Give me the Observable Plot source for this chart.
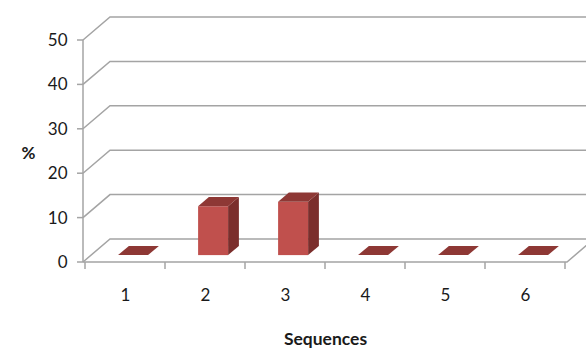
<!DOCTYPE html>
<html><head><meta charset="utf-8">
<script src="https://cdn.jsdelivr.net/npm/d3@7"></script>
<script src="https://cdn.jsdelivr.net/npm/@observablehq/plot@0.6"></script>
<style>body{margin:0;background:#fff}</style>
</head><body><div id="chart"></div>
<script>
// ---- data ----
const categories = ["1", "2", "3", "4", "5", "6"];
const values = [0, 11, 12, 0, 0, 0];
const yTicks = [0, 10, 20, 30, 40, 50];
const yLabel = "%";
const xLabel = "Sequences";

const data = categories.map((c, i) => ({seq: c, pct: values[i]}));

// ---- style ----
const DEPTH = [27, -23];          // wall depth offset (px)
const BAR_FRONT = 0.3, BAR_BACK = 0.7; // bar position within depth
const BAR_INSET = 25;
const gridColor = "#a4a4a4";
const frontColor = "#c0504d";
const topColor = "#8e3835";
const sideColor = "#7b2e2c";
const textColor = "#1a1a1a";
const font = "Lato, 'Open Sans', sans-serif";

function walls(index, {x, y}, values, dims) {
  const g = d3.create("svg:g").attr("fill", "none").attr("stroke", gridColor).attr("stroke-width", 1.5);
  const x0 = dims.marginLeft, x1 = dims.width - dims.marginRight;
  const [dx, dy] = DEPTH;
  for (const t of yTicks) {
    const yy = y(t);
    g.append("path").attr("d", `M${x0},${yy}L${x0 + dx},${yy + dy}H${x1 + dx + 20}`);
    g.append("path").attr("d", `M${x0 - 6},${yy}H${x0}`);
  }
  g.append("path").attr("d", `M${x0},${y(0)}H${x1}l${dx},${dy}`);
  g.append("path").attr("d", `M${x0},${y(0)}V${y(d3.max(yTicks))}`);
  const bw = x.bandwidth();
  const bounds = categories.map(c => x(c)).concat([x(categories[categories.length - 1]) + bw]);
  for (const b of bounds) g.append("path").attr("d", `M${b},${y(0)}v7`);
  return g.node();
}

function barSides(index, {x, y}) {
  const g = d3.create("svg:g");
  const bw = x.bandwidth();
  const [dx, dy] = DEPTH;
  const w = bw - 2 * BAR_INSET;
  const ddx = dx * (BAR_BACK - BAR_FRONT), ddy = dy * (BAR_BACK - BAR_FRONT);
  for (const d of data) {
    const fx = x(d.seq) + BAR_INSET + dx * BAR_FRONT;
    const fy0 = y(0) + dy * BAR_FRONT;
    const fy1 = y(d.pct) + dy * BAR_FRONT;
    if (fy0 - fy1 > 0.5) {
      g.append("path").attr("fill", sideColor)
        .attr("d", `M${fx + w},${fy1}l${ddx},${ddy}V${fy0 + ddy}l${-ddx},${-ddy}Z`);
    }
    g.append("path").attr("fill", topColor)
      .attr("d", `M${fx},${fy1}h${w}l${ddx},${ddy}h${-w}Z`);
  }
  return g.node();
}

const chart = Plot.plot({
  width: 586,
  height: 348,
  marginLeft: 83,
  marginRight: 19,
  marginTop: 40,
  marginBottom: 86,
  style: {fontFamily: font, fontSize: "17px", color: textColor, background: "#fff"},
  x: {type: "band", domain: categories, padding: 0, tickSize: 0, tickPadding: 26, label: null},
  y: {domain: [0, 50], ticks: yTicks, tickSize: 0, tickPadding: 16, label: null},
  marks: [
    walls,
    Plot.barY(data, {x: "seq", y: "pct", fill: frontColor,
      insetLeft: BAR_INSET, insetRight: BAR_INSET,
      dx: DEPTH[0] * BAR_FRONT, dy: DEPTH[1] * BAR_FRONT}),
    barSides,
    Plot.text([yLabel], {frameAnchor: "left", text: d => d, dx: -62, dy: 2, fontWeight: "bold", fontSize: 17, fill: textColor}),
    Plot.text([xLabel], {frameAnchor: "bottom", text: d => d, dy: 82, fontWeight: "bold", fontSize: 17.5, fill: textColor})
  ]
});
document.getElementById("chart").appendChild(chart);
</script>
</body></html>
